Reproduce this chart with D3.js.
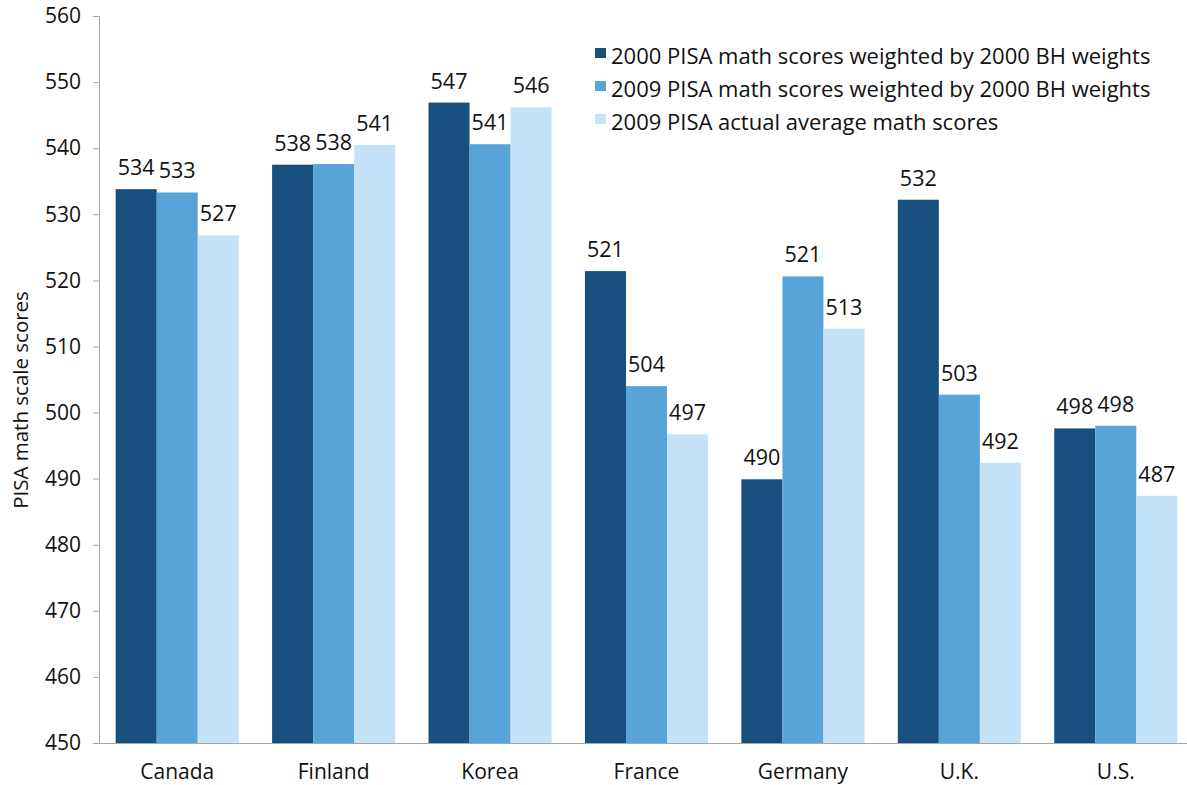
<!DOCTYPE html>
<html>
<head>
<meta charset="utf-8">
<script src="https://cdn.jsdelivr.net/npm/d3@7"></script>
<style>
  body { margin: 0; background: #fff; }
  svg text { font-family: "Open Sans", "Noto Sans", sans-serif; fill: #111; }
</style>
</head>
<body>
<svg id="chart" width="1187" height="785"></svg>
<script>
// chart data
var countries = ["Canada", "Finland", "Korea", "France", "Germany", "U.K.", "U.S."];
var seriesNames = [
  "2000 PISA math scores weighted by 2000 BH weights",
  "2009 PISA math scores weighted by 2000 BH weights",
  "2009 PISA actual average math scores"
];
var weighted2000 = [533.8, 537.5, 546.9, 521.4, 489.9, 532.2, 497.6];
var weighted2009 = [533.3, 537.6, 540.6, 504.0, 520.6, 502.7, 498.0];
var actual2009 = [526.8, 540.5, 546.2, 496.7, 512.7, 492.4, 487.4];
var yTicks = [450, 460, 470, 480, 490, 500, 510, 520, 530, 540, 550, 560];
var colors = ["#174f7e", "#58a4d8", "#c4e2f8"];

var series = [weighted2000, weighted2009, actual2009];

var svg = d3.select("#chart");
var margin = {left: 99, right: -7, top: 16, bottom: 42};
var width = 1187 - margin.left - margin.right,
    height = 785 - margin.top - margin.bottom;

var g = svg.append("g").attr("transform", "translate(" + margin.left + "," + margin.top + ")");

var x0 = d3.scaleBand().domain(countries).range([0, width]).paddingInner(0.213).paddingOuter(0.1065);
var x1 = d3.scaleBand().domain([0, 1, 2]).range([0, x0.bandwidth()]);
var y = d3.scaleLinear().domain([450, 560]).range([height, 0]);

// bars
var groups = g.selectAll(".country").data(countries).enter().append("g")
  .attr("transform", function(d){ return "translate(" + x0(d) + ",0)"; });

groups.selectAll("rect").data(function(d, i){
    return series.map(function(s, k){ return {k: k, v: s[i]}; });
  }).enter().append("rect")
  .attr("x", function(d){ return x1(d.k); })
  .attr("width", x1.bandwidth())
  .attr("y", function(d){ return y(d.v); })
  .attr("height", function(d){ return height - y(d.v); })
  .attr("fill", function(d){ return colors[d.k]; });

groups.selectAll(".val").data(function(d, i){
    return series.map(function(s, k){ return {k: k, v: s[i]}; });
  }).enter().append("text")
  .attr("class", "val")
  .attr("x", function(d){ return x1(d.k) + x1.bandwidth() / 2; })
  .attr("y", function(d){ return y(d.v) - 14; })
  .attr("text-anchor", "middle")
  .style("font-size", "21.5px")
  .text(function(d){ return Math.round(d.v); });

// axes
var yAxis = g.append("g").call(d3.axisLeft(y).tickValues(yTicks).tickSize(6).tickSizeOuter(6).tickPadding(12));
yAxis.select(".domain").attr("stroke", "#a6a6a6");
yAxis.selectAll(".tick line").attr("stroke", "#a6a6a6");
yAxis.selectAll(".tick text").style("font-size", "21px").attr("fill", "#111");

var xAxis = g.append("g").attr("transform", "translate(0," + height + ")")
  .call(d3.axisBottom(x0).tickSize(0).tickPadding(21));
xAxis.select(".domain").attr("stroke", "#a6a6a6");
xAxis.selectAll(".tick text").style("font-size", "21px").attr("fill", "#111");

// y title
svg.append("text")
  .attr("transform", "translate(28,400) rotate(-90)")
  .attr("text-anchor", "middle")
  .style("font-size", "20.5px")
  .text("PISA math scale scores");

// legend
var legend = svg.append("g").attr("transform", "translate(595,48)");
var items = legend.selectAll("g").data(seriesNames).enter().append("g")
  .attr("transform", function(d, i){ return "translate(0," + (i * 33) + ")"; });
items.append("rect").attr("x", 0).attr("y", 0).attr("width", 11).attr("height", 10)
  .attr("fill", function(d, i){ return colors[i]; });
items.append("text").attr("x", 16).attr("y", 16)
  .style("font-size", "22px")
  .text(function(d){ return d; });
</script>
</body>
</html>
